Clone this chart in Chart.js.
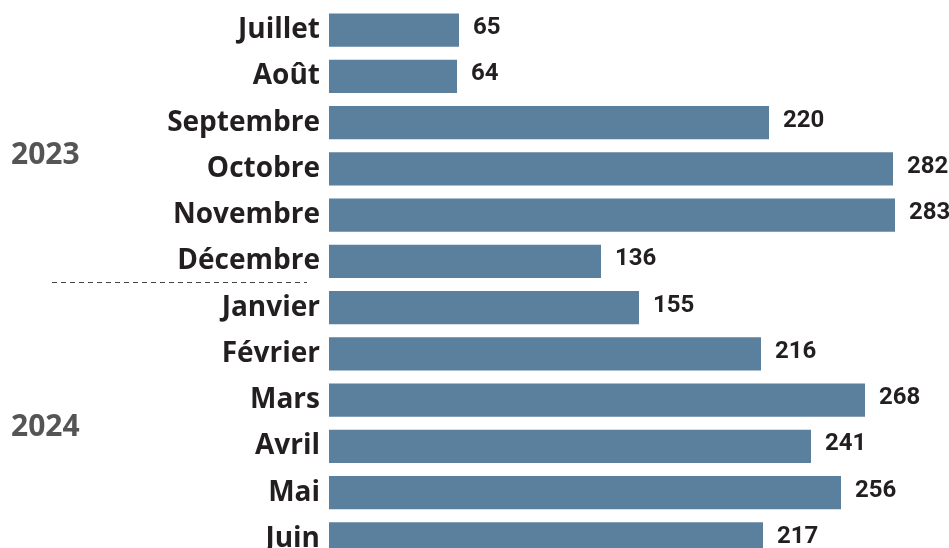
<!DOCTYPE html>
<html>
<head>
<meta charset="utf-8">
<script src="https://cdn.jsdelivr.net/npm/chart.js@4/dist/chart.umd.min.js"></script>
<style>
  html, body { margin: 0; padding: 0; background: #fff; overflow: hidden; }
  #wrap { position: relative; width: 949px; height: 562px; }
</style>
</head>
<body>
<div id="wrap"><canvas id="monthsChart"></canvas></div>
<script>
const months = ["Juillet", "Août", "Septembre", "Octobre", "Novembre", "Décembre",
  "Janvier", "Février", "Mars", "Avril", "Mai", "Juin"];
const counts = [65, 64, 220, 282, 283, 136, 155, 216, 268, 241, 256, 217];
const years = ["2023", "2024"];
const yearPos = [2.7, 8.6];   // position of each year label, in category units
const barColor = "#5a809e";

// year labels, separator and values next to the bars
const extras = {
  id: "extras",
  afterDatasetsDraw(chart) {
    const ctx = chart.ctx;
    const y = chart.scales.y;
    ctx.save();

    // values
    ctx.font = "bold 24px Roboto";
    ctx.fillStyle = "#231f20";
    ctx.textAlign = "left";
    ctx.textBaseline = "middle";
    chart.getDatasetMeta(0).data.forEach((bar, i) => {
      ctx.fillText(counts[i], bar.x + 14, bar.y - 2);
    });

    // years
    ctx.font = "bold 30px 'Open Sans'";
    ctx.fillStyle = "#555555";
    years.forEach((yr, i) => {
      ctx.fillText(yr, 11, y.getPixelForValue(yearPos[i]));
    });

    // dashed line between Décembre and Janvier
    const ly = Math.round((y.getPixelForValue(5) + y.getPixelForValue(6)) / 2) - 2.5;
    ctx.strokeStyle = "#444";
    ctx.lineWidth = 1;
    ctx.setLineDash([5, 4]);
    ctx.beginPath();
    ctx.moveTo(52, ly);
    ctx.lineTo(307, ly);
    ctx.stroke();
    ctx.restore();
  }
};

new Chart("monthsChart", {
  type: "bar",
  data: {
    labels: months,
    datasets: [{
      data: counts,
      backgroundColor: barColor,
      barPercentage: 0.714,
      categoryPercentage: 1
    }]
  },
  options: {
    indexAxis: "y",
    responsive: true,
    maintainAspectRatio: false,
    animation: false,
    layout: { padding: { top: 7, bottom: 0, left: 0, right: 0 } },
    plugins: {
      legend: { display: false },
      tooltip: { enabled: false }
    },
    scales: {
      x: {
        display: false,
        min: 0,
        max: 310
      },
      y: {
        grid: { display: false, drawTicks: false },
        border: { display: false },
        ticks: {
          padding: 9,
          color: "#231f20",
          font: { family: "'Open Sans'", size: 28, weight: "bold" }
        },
        afterFit(scale) {
          scale.width = 329;
          scale.paddingTop = 0;
          scale.paddingBottom = 0;
        }
      }
    }
  },
  plugins: [extras]
});
</script>
</body>
</html>
